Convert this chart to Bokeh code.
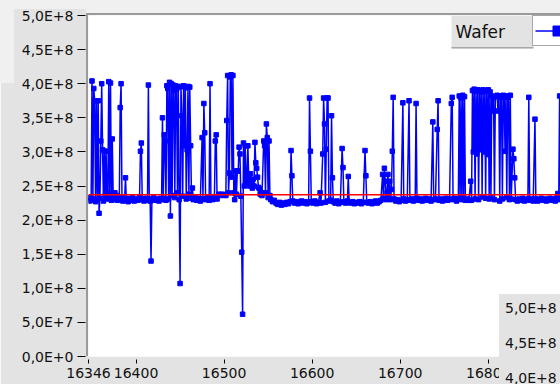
from bokeh.plotting import figure
from bokeh.models import Range1d, FixedTicker, BoxAnnotation, Label, Span, Legend, LegendItem, Div
from bokeh.layouts import column
from bokeh.embed import file_html
from bokeh.resources import INLINE

# ---------------- data ----------------
x_ticks = [16346, 16400, 16500, 16600, 16700, 16800]
y_ticks = [0, 5e7, 1e8, 1.5e8, 2e8, 2.5e8, 3e8, 3.5e8, 4e8, 4.5e8, 5e8]
y_tick_labels = ["0,0E+0", "5,0E+7", "1,0E+8", "1,5E+8", "2,0E+8", "2,5E+8",
                 "3,0E+8", "3,5E+8", "4,0E+8", "4,5E+8", "5,0E+8"]
inset_labels = ["5,0E+8", "4,5E+8", "4,0E+8"]
series_name = "Wafer"
mean_level = 2.37e8
x_start, x_end = 16346, 16882

wafer_x = [
    16346, 16347, 16348, 16349, 16350, 16351, 16352, 16353, 16354, 16355, 16356, 16357, 16358, 16359,
    16360, 16361, 16362, 16363, 16364, 16365, 16366, 16367, 16368, 16369, 16370, 16371, 16372, 16373,
    16374, 16375, 16376, 16377, 16378, 16379, 16380, 16381, 16382, 16383, 16384, 16385, 16386, 16387,
    16388, 16389, 16390, 16391, 16392, 16394, 16396, 16398, 16400, 16402, 16404, 16405, 16406, 16407,
    16409, 16411, 16413, 16414, 16415, 16416, 16417, 16418, 16420, 16422, 16424, 16426, 16428, 16429,
    16430, 16431, 16432, 16433, 16434, 16435, 16436, 16437, 16438, 16439, 16440, 16441, 16442, 16443,
    16444, 16445, 16446, 16447, 16448, 16449, 16450, 16451, 16452, 16453, 16454, 16455, 16456, 16457,
    16458, 16459, 16460, 16461, 16462, 16463, 16464, 16465, 16467, 16469, 16471, 16473, 16475, 16476,
    16477, 16478, 16479, 16481, 16483, 16484, 16485, 16487, 16489, 16490, 16491, 16492, 16494, 16496,
    16498, 16500, 16502, 16503, 16504, 16505, 16506, 16507, 16508, 16509, 16510, 16511, 16512, 16513,
    16514, 16515, 16516, 16517, 16518, 16519, 16520, 16521, 16522, 16523, 16524, 16525, 16526, 16527,
    16528, 16529, 16530, 16531, 16532, 16533, 16534, 16535, 16536, 16537, 16538, 16539, 16540, 16541,
    16542, 16543, 16545, 16546, 16547, 16548, 16549, 16550, 16551, 16552, 16553, 16555, 16557, 16559,
    16561, 16563, 16565, 16567, 16569, 16571, 16573, 16575, 16576, 16577, 16578, 16580, 16582, 16584,
    16586, 16588, 16590, 16592, 16594, 16596, 16597, 16598, 16599, 16601, 16603, 16605, 16607, 16609,
    16610, 16612, 16613, 16614, 16615, 16616, 16617, 16618, 16619, 16621, 16622, 16623, 16624, 16626,
    16628, 16630, 16632, 16634, 16635, 16636, 16638, 16640, 16641, 16642, 16644, 16646, 16648, 16650,
    16652, 16654, 16656, 16658, 16660, 16661, 16662, 16664, 16666, 16668, 16670, 16672, 16674, 16676,
    16678, 16680, 16681, 16682, 16683, 16684, 16685, 16686, 16687, 16688, 16689, 16690, 16691, 16692,
    16693, 16695, 16697, 16699, 16701, 16703, 16704, 16706, 16708, 16710, 16711, 16713, 16715, 16717,
    16718, 16719, 16721, 16723, 16725, 16727, 16729, 16731, 16733, 16735, 16737, 16738, 16740, 16742,
    16743, 16744, 16746, 16748, 16750, 16752, 16754, 16756, 16758, 16759, 16760, 16762, 16764, 16766,
    16767, 16768, 16769, 16770, 16771, 16772, 16773, 16774, 16776, 16778, 16780, 16781, 16782, 16783,
    16784, 16785, 16786, 16787, 16788, 16789, 16790, 16791, 16792, 16793, 16794, 16795, 16796, 16797,
    16798, 16799, 16800, 16801, 16802, 16803, 16804, 16805, 16806, 16807, 16808, 16810, 16811, 16812,
    16813, 16814, 16815, 16816, 16817, 16818, 16819, 16820, 16821, 16822, 16823, 16824, 16825, 16826,
    16828, 16829, 16830, 16831, 16833, 16835, 16837, 16839, 16841, 16843, 16845, 16846, 16847, 16849,
    16851, 16853, 16854, 16856, 16858, 16860, 16862, 16864, 16866, 16868, 16870, 16872, 16874, 16876,
    16878, 16879, 16880, 16881, 16882,
]

# values in units of 1e6
wafer_y_m = [
    232, 228, 233, 229, 404, 231, 393, 375, 227, 375, 230, 375, 210, 232,
    316, 400, 303, 228, 301, 236, 301, 231, 240, 403, 233, 401, 229, 319,
    238, 232, 240, 230, 236, 229, 234, 231, 365, 400, 232, 228, 233, 230,
    262, 229, 232, 227, 231, 229, 233, 228, 231, 229, 234, 301, 313, 230,
    228, 232, 229, 398, 231, 228, 140, 230, 233, 229, 231, 228, 232, 230,
    350, 232, 325, 316, 229, 397, 393, 231, 402, 206, 400, 236, 398, 390,
    233, 397, 392, 240, 395, 230, 107, 396, 353, 235, 397, 309, 394, 231,
    303, 396, 238, 395, 309, 232, 247, 230, 233, 229, 232, 228, 321, 231,
    371, 328, 230, 233, 229, 400, 232, 230, 234, 316, 325, 231, 238, 236,
    238, 237, 236, 346, 412, 240, 269, 410, 413, 263, 412, 240, 230, 272,
    238, 272, 272, 307, 297, 235, 153, 62, 313, 250, 309, 263, 255, 309,
    260, 250, 268, 255, 247, 260, 250, 314, 284, 276, 263, 248, 246, 238,
    240, 236, 316, 309, 240, 341, 321, 233, 316, 236, 230, 227, 229, 225,
    223, 226, 222, 225, 223, 226, 224, 227, 302, 265, 228, 225, 227, 224,
    226, 228, 225, 227, 224, 226, 379, 301, 227, 225, 228, 224, 226, 240,
    225, 297, 379, 341, 226, 304, 379, 379, 228, 229, 353, 262, 227, 225,
    228, 224, 226, 305, 277, 227, 225, 228, 264, 226, 225, 227, 224, 226,
    225, 227, 224, 226, 302, 265, 226, 225, 227, 224, 226, 228, 225, 227,
    229, 267, 232, 276, 257, 230, 240, 267, 233, 257, 230, 245, 301, 380,
    231, 228, 230, 227, 229, 372, 231, 228, 230, 375, 229, 231, 228, 230,
    371, 232, 229, 231, 228, 230, 232, 229, 231, 228, 344, 230, 231, 333,
    375, 229, 231, 228, 230, 232, 229, 231, 371, 380, 230, 232, 228, 231,
    382, 232, 379, 230, 383, 233, 381, 229, 231, 229, 257, 229, 390, 300,
    392, 231, 389, 297, 391, 230, 390, 303, 388, 234, 391, 300, 389, 232,
    390, 296, 391, 231, 388, 233, 382, 360, 380, 230, 381, 383, 360, 382,
    228, 381, 380, 231, 383, 382, 301, 381, 233, 380, 382, 230, 383, 231,
    304, 290, 262, 230, 228, 231, 229, 232, 228, 230, 231, 380, 229, 231,
    228, 348, 231, 228, 230, 232, 229, 231, 228, 230, 232, 229, 231, 228,
    233, 239, 230, 382, 232,
]
wafer_y = [v * 1e6 for v in wafer_y_m]

# ---------------- styles ----------------
PANEL = "#e3e3e3"
LIGHT = "#f0f0f0"
EDGE = "#9a9a9a"
BLUE = "#0000ff"
FONT = "DejaVu Sans"

W, H = 560, 384
FRAME_LEFT, FRAME_TOP, FRAME_BOTTOM = 88, 15, 356

p = figure(width=W, height=H, x_range=Range1d(x_start, x_end), y_range=Range1d(0, 5e8),
           output_backend="svg", toolbar_location=None,
           min_border_left=FRAME_LEFT, min_border_right=0, min_border_top=FRAME_TOP,
           min_border_bottom=H - FRAME_BOTTOM,
           background_fill_color="white", border_fill_color=PANEL, outline_line_color=None)
p.xgrid.visible = False
p.ygrid.visible = False

p.xaxis.ticker = FixedTicker(ticks=x_ticks)
p.yaxis.ticker = FixedTicker(ticks=[int(v) for v in y_ticks])
p.yaxis.major_label_overrides = {int(v): s for v, s in zip(y_ticks, y_tick_labels)}
for ax in (p.xaxis[0], p.yaxis[0]):
    ax.axis_line_color = None
    ax.minor_tick_line_color = None
    ax.major_tick_line_color = "#000000"
    ax.major_tick_line_width = 1
    ax.major_label_text_font = FONT
    ax.major_label_text_font_size = "14px"
    ax.major_label_text_color = "#111111"
p.xaxis.major_tick_in = -3
p.xaxis.major_tick_out = 7
p.xaxis.major_label_standoff = 4
p.yaxis.major_tick_in = -3
p.yaxis.major_tick_out = 11
p.yaxis.major_label_standoff = 4

line_r = p.line(wafer_x, wafer_y, line_color=BLUE, line_width=1.5)
scat_r = p.scatter(wafer_x, wafer_y, marker="square", size=4.5, fill_color=BLUE, line_color=BLUE)

p.add_layout(Span(location=mean_level, dimension="width", line_color="#ff0000", line_width=1.5))


def box(l, r, t, b, color):
    p.add_layout(BoxAnnotation(left=l, right=r, top=t, bottom=b,
                               left_units="canvas", right_units="canvas",
                               top_units="canvas", bottom_units="canvas",
                               fill_color=color, fill_alpha=1.0, line_color=None))


# legend plate (inside the frame)
box(451, 533, 15, 48, PANEL)
box(451, 533, 46.5, 48, "#a8a8a8")
p.add_layout(Label(x=455 - FRAME_LEFT, y=FRAME_BOTTOM - 31, x_units="screen", y_units="screen",
                   text=series_name, text_font=FONT, text_font_size="17px", text_color="#111111",
                   text_align="left", text_baseline="middle"))
legend = Legend(items=[LegendItem(label=" ", renderers=[line_r, scat_r])],
                location=(532 - FRAME_LEFT, FRAME_BOTTOM - 46), orientation="vertical",
                padding=2, spacing=0, margin=0, glyph_width=45, glyph_height=25,
                label_width=0, label_height=0, label_standoff=0, label_text_font_size="1px",
                background_fill_color="white", background_fill_alpha=1.0,
                border_line_color="#505050", border_line_width=1)
p.add_layout(legend)


# ---------------- page-level pieces outside the plot frame ----------------
def abs_div(left, top, w, h, bg, html=""):
    st = {"position": "absolute", "left": f"{left}px", "top": f"{top}px",
          "width": f"{w}px", "height": f"{h}px", "background-color": bg,
          "z-index": "10", "overflow": "hidden", "margin": "0", "padding": "0"}
    return Div(text=html, width=w, height=h, styles=st)


inset_html = ('<div style="font-family:\'DejaVu Sans\';font-size:14px;color:#111111;'
              'line-height:35px;margin-top:-3.5px;padding-left:6px;white-space:nowrap">'
              + "<br>".join(inset_labels) + "</div>")

divs = [
    abs_div(0, 0, 86, 9, LIGHT),
    abs_div(86, 0, W - 86, 13, LIGHT),
    abs_div(0, 0, 14, 83, LIGHT),
    abs_div(86, 13, W - 86, 2, EDGE),
    abs_div(86, 13, 2, FRAME_BOTTOM - 13, EDGE),
    abs_div(499, 294, W - 499, H - 294, PANEL, inset_html),
]

root = column(p, *divs, spacing=0)
open("out.html", "w").write(file_html(root, INLINE))
